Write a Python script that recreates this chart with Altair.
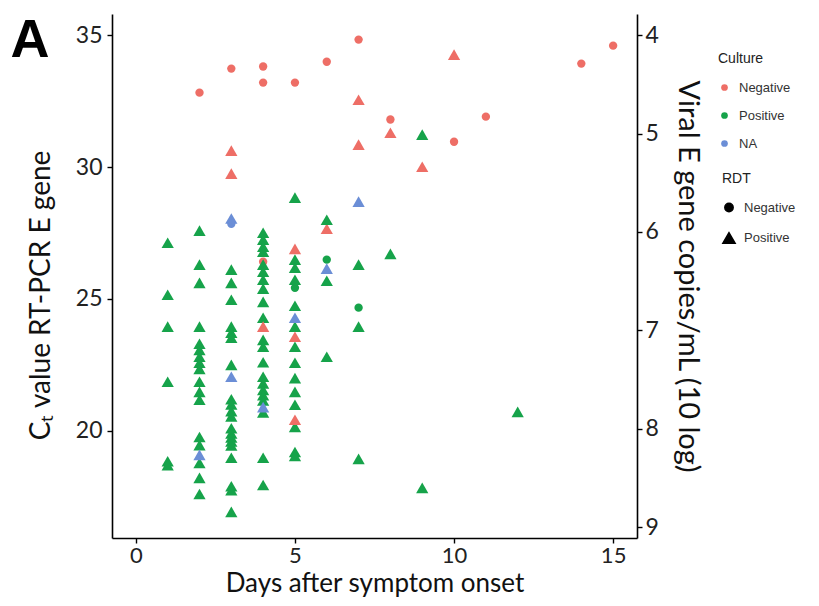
import altair as alt
import pandas as pd

# ---- data ----
days = (
    [4, 6]
    + [1] * 6
    + [2] * 17
    + [3] * 20
    + [4] * 21
    + [5] * 14
    + [6] * 3
    + [7] * 3
    + [8]
    + [9] * 2
    + [12]
    + [5, 6, 7]
    + [2, 3, 4, 4, 5, 6, 7, 8, 10, 11, 14, 15]
    + [3, 3, 4, 5, 5, 5, 7, 7, 8, 9, 10]
    + [3, 2, 3, 3, 4, 5, 6, 7]
)
ct = (
    [26.41, 27.66]
    + [27.13, 25.16, 23.95, 21.86, 18.85, 18.70]
    + [27.59, 26.30, 25.61, 23.95, 23.30, 23.07, 22.81, 22.58, 22.35, 21.86, 21.48,
       21.18, 19.77, 19.46, 18.78, 18.22, 17.61]
    + [26.11, 25.61, 24.97, 23.95, 23.72, 23.53, 22.50, 21.20, 21.00, 20.75, 20.55,
       20.10, 19.90, 19.75, 19.60, 19.45, 18.98, 17.90, 17.75, 16.93]
    + [27.51, 27.25, 26.98, 26.79, 26.30, 26.03, 25.73, 25.39, 24.89, 24.29, 23.45,
       23.19, 22.60, 22.05, 21.80, 21.55, 21.35, 21.15, 20.70, 18.98, 17.95]
    + [28.84, 26.49, 26.18, 25.73, 24.74, 23.95, 23.19, 22.58, 22.00, 21.48, 20.99,
       20.15, 19.20, 19.05]
    + [28.00, 25.69, 22.81]
    + [26.30, 23.95, 18.94]
    + [26.71]
    + [31.23, 17.84]
    + [20.72]
    + [25.42, 26.49, 24.67]
    + [32.82, 33.73, 33.81, 33.20, 33.20, 33.99, 34.83, 31.80, 30.96, 31.91, 33.92, 34.60]
    + [30.62, 29.75, 23.95, 26.90, 23.57, 20.42, 32.55, 30.85, 31.30, 30.01, 34.26]
    + [27.85, 19.09, 28.05, 22.05, 20.90, 24.29, 26.15, 28.69]
)
culture = (
    ["Negative", "Negative"]
    + ["Positive"] * 88
    + ["Positive"] * 3
    + ["Negative"] * 12
    + ["Negative"] * 11
    + ["NA"] * 8
)
rdt = (
    ["Negative", "Positive"]
    + ["Positive"] * 88
    + ["Negative"] * 3
    + ["Negative"] * 12
    + ["Positive"] * 11
    + ["Negative"] + ["Positive"] * 7
)

culture_levels = ["Negative", "Positive", "NA"]
culture_colors = ["#EE6E66", "#16A34A", "#6B8ED6"]
rdt_levels = ["Negative", "Positive"]
rdt_shapes = ["circle", "triangle-up"]
rdt_sizes = [70, 150]

x_ticks = [0, 5, 10, 15]
ct_ticks = [20, 25, 30, 35]
viral_labels = [4, 5, 6, 7, 8, 9]
viral_tick_ct = [35.0, 31.27, 27.54, 23.81, 20.08, 16.35]

df = pd.DataFrame({"day": days, "ct": ct, "Culture": culture, "RDT": rdt})

FONT = "Lato"
LEG_FONT = "Liberation Sans"

yscale = alt.Scale(domain=[15.94, 35.8], nice=False, zero=False)
xscale = alt.Scale(domain=[-0.75, 15.75], nice=False, zero=False)

axis_common = dict(
    domainColor="black", domainWidth=1.6, tickColor="black", tickWidth=1.4,
    tickSize=5, grid=False, labelFont=FONT, labelColor="#222",
    titleFont=FONT, titleFontWeight="normal", titleColor="#111",
)

rdt_legend = alt.Legend(orient="none", legendX=610, legendY=158,
                        symbolFillColor="black", symbolStrokeColor="black")

points = alt.Chart(df).mark_point(filled=True, opacity=1, strokeWidth=0).encode(
    x=alt.X("day:Q", scale=xscale,
            axis=alt.Axis(values=x_ticks, title="Days after symptom onset",
                          labelFontSize=22, titleFontSize=26,
                          labelPadding=2, titlePadding=4, **axis_common)),
    y=alt.Y("ct:Q", scale=yscale,
            axis=alt.Axis(values=ct_ticks, title="Cₜ value RT-PCR E gene",
                          labelFontSize=23, titleFontSize=28, titleY=281,
                          labelPadding=5, titlePadding=20, **axis_common)),
    color=alt.Color("Culture:N",
                    scale=alt.Scale(domain=culture_levels, range=culture_colors),
                    legend=alt.Legend(orient="none", legendX=606, legendY=38,
                                      symbolType="circle", symbolSize=45)),
    shape=alt.Shape("RDT:N",
                    scale=alt.Scale(domain=rdt_levels, range=rdt_shapes),
                    legend=rdt_legend),
    size=alt.Size("RDT:N", scale=alt.Scale(domain=rdt_levels, range=rdt_sizes),
                  legend=rdt_legend),
)

label_expr = " : ".join(
    f"abs(datum.value - {c}) < 0.01 ? '{l}'" for c, l in zip(viral_tick_ct, viral_labels)
) + " : ''"

right_df = pd.DataFrame({"ct": viral_tick_ct})
right = alt.Chart(right_df).mark_point(opacity=0).encode(
    y=alt.Y("ct:Q", scale=yscale,
            axis=alt.Axis(orient="right", values=viral_tick_ct, labelExpr=label_expr,
                          title="Viral E gene copies/mL (10 log)",
                          labelFontSize=23, titleFontSize=29,
                          labelPadding=3, titlePadding=14, **axis_common)),
)

panel = alt.Chart(pd.DataFrame({"t": ["A"]})).mark_text(
    font=LEG_FONT, fontSize=54, fontWeight="bold", color="black",
    align="center", baseline="middle",
).encode(text="t:N", x=alt.value(-82), y=alt.value(27))

chart = alt.layer(points, right, panel).resolve_axis(y="independent").properties(
    width=525, height=524,
    autosize=alt.AutoSizeParams(type="none"),
    padding={"left": 104, "top": 6, "right": 174, "bottom": 60},
).configure_view(stroke="transparent").configure_legend(
    titleFont=LEG_FONT, titleFontSize=14, titleFontWeight="normal", titleColor="#222",
    labelFont=LEG_FONT, labelFontSize=13, labelColor="#333",
    rowPadding=14, titlePadding=15, labelOffset=8,
)

chart.save("out.html", embed_options={"renderer": "svg", "actions": False})
